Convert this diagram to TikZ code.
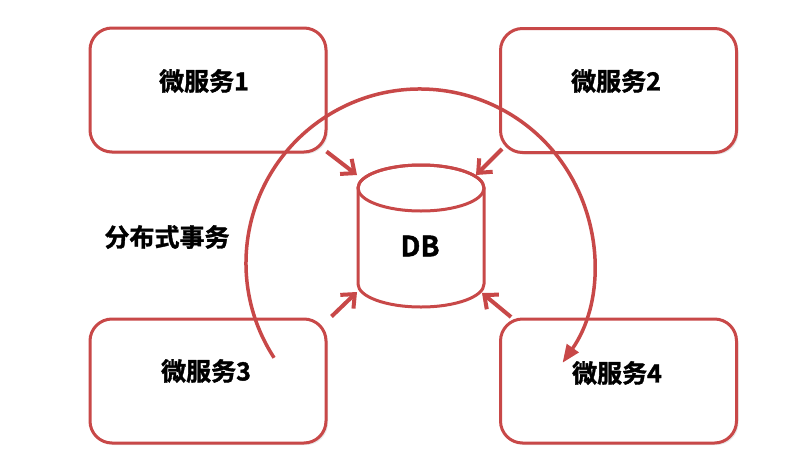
\documentclass[tikz,border=0pt]{standalone}
\usepackage{fontspec}
\setmainfont{Noto Sans CJK SC}[BoldFont={Noto Sans CJK SC Bold}, BoldFeatures={FakeBold=1.5}]
\usetikzlibrary{arrows.meta,shadows}
\definecolor{rd}{RGB}{200,72,72}
\tikzset{
  box/.style={draw=rd, line width=3pt, fill=white, rounded corners=22pt,
    minimum width=236pt, minimum height=124pt, inner sep=0pt,
    drop shadow={opacity=0.18, shadow xshift=2pt, shadow yshift=-2pt}},
  lbl/.style={font=\bfseries\fontsize{25}{28}\selectfont, inner sep=0pt, text=black},
  feed/.style={draw=rd, line width=4pt, -{Straight Barb[length=11pt,width=19pt,line width=4pt]}},
  cyl/.style={draw=rd, line width=3pt, fill=white},
  flow/.style={draw=rd, line width=3.5pt, -{Triangle[length=18pt,width=14pt]}}
}
\begin{document}
\begin{tikzpicture}[x=1pt,y=-1pt]
\useasboundingbox (0,0) rectangle (803,466);
\fill[white] (0,0) rectangle (803,466);
% boxes
\node[box] (m1) at (208,90) {};
\node[box] (m2) at (618.5,90.5) {};
\node[box] (m3) at (208,381) {};
\node[box] (m4) at (618.5,381) {};
\node[lbl] (t1) at (204,81) {微服务1};
\node[lbl] (t2) at (616,81) {微服务2};
\node[lbl] (t3) at (206,371) {微服务3};
\node[lbl] (t4) at (617,373) {微服务4};
\node[lbl] (tx) at (167,237) {分布式事务};
% cylinder
\path[cyl] (358,188) -- (358,284) arc[x radius=63, y radius=23, start angle=180, end angle=0]
  -- (484,188) arc[x radius=63, y radius=23, start angle=0, end angle=-180] -- cycle;
\draw[cyl, fill=none] (421,188) ellipse[x radius=63, y radius=23];
\node[lbl, font=\bfseries\fontsize{28}{30}\selectfont] (db) at (420,246) {DB};
\coordinate (d1) at (357,175);
\coordinate (d2) at (476,175);
\coordinate (d3) at (357,292);
\coordinate (d4) at (482,293);
\coordinate (s4) at (511,317);
% feeds
\draw[feed] (m1.south east) ++(-1,-2) -- (d1);
\draw[feed] (m2.south west) ++(3,-5) -- (d2);
\draw[feed] (m3.north east) ++(4,-1) -- (d3);
\draw[feed] (s4) -- (d4);
% distributed transaction arc
\coordinate (c) at (420,263);
\draw[flow] (c) ++(-213:174) arc[start angle=-213, end angle=35, radius=174];
\end{tikzpicture}
\end{document}
